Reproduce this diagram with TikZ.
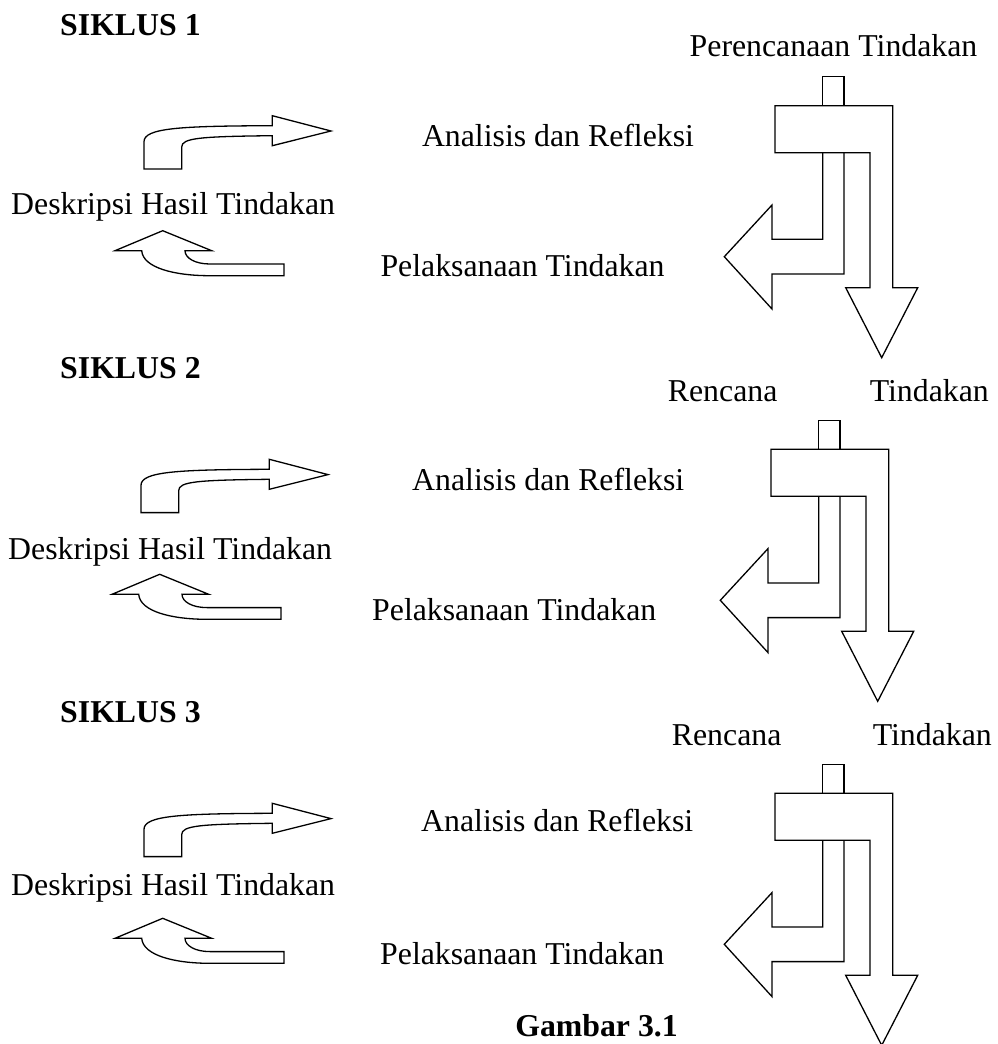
\documentclass[tikz,border=0pt]{standalone}
\usepackage{fontspec}
\setmainfont{Liberation Serif}
\newcommand{\leftarrowsdraw}{%
  % upper bent arrow pointing right
  \draw[shp] (144,169) -- (144,141.7) .. controls (144,128) and (180,126) .. (272.3,125.7)
    -- (272.3,115.7) -- (331,131) -- (272.3,145.7) -- (272.3,135.7)
    .. controls (200,136.5) and (181.7,138) .. (181.7,147) -- (181.7,169) -- cycle;
  % lower bent arrow pointing up
  \draw[shp] (284,275.7) -- (210,275.7) .. controls (175,275.7) and (143,268) .. (141.7,250.7)
    -- (115,250.7) -- (162.7,230.7) -- (211.7,250.7) -- (185,250.7)
    .. controls (185,258) and (195,264) .. (210,264) -- (284,264) -- cycle;
}
\newcommand{\rightblockdraw}{%
  % stub on top
  \draw[shp] (822.7,105.7) -- (822.7,76.7) -- (844,76.7) -- (844,105.7);
  % box with down arrow
  \draw[shp] (775,105.7) -- (892.7,105.7) -- (892.7,287.7) -- (917.7,287.7)
    -- (881.7,357.7) -- (845.7,287.7) -- (870,287.7) -- (870,152.7) -- (775,152.7) -- cycle;
  % left arrow
  \draw[shp] (822.7,152.7) -- (822.7,239.3) -- (772,239.3) -- (772,205) -- (724.3,256.7)
    -- (772,309) -- (772,274) -- (844,274) -- (844,152.7);
}
\begin{document}
\begin{tikzpicture}[x=1pt,y=-1pt,
  lbl/.style={font=\fontsize{31.8}{38}\selectfont, inner sep=0pt, anchor=base west},
  lble/.style={lbl, anchor=base east},
  ttl/.style={lbl, font=\fontsize{31.8}{38}\selectfont\bfseries},
  shp/.style={draw=black, line width=1.3pt, line join=miter}]
\useasboundingbox (0,0) rectangle (997,1044);

% ---------- cycle 1 ----------
\leftarrowsdraw
\rightblockdraw
\node[ttl] (s1) at (60,35) {SIKLUS 1};
\node[lbl] (plan1) at (689.5,56.7) {Perencanaan Tindakan};
\node[lbl] (ana1) at (421.8,146.7) {Analisis dan Refleksi};
\node[lbl] (desc1) at (11,214.5) {Deskripsi Hasil Tindakan};
\node[lbl] (pel1) at (380.3,276.7) {Pelaksanaan Tindakan};

% ---------- cycle 2 ----------
\begin{scope}[shift={(-3,343.6)}]
  \leftarrowsdraw
\end{scope}
\begin{scope}[shift={(-4,343.6)}]
  \rightblockdraw
\end{scope}
\node[ttl] (s2) at (60,378.6) {SIKLUS 2};
\node[lbl] (ren2) at (667.7,401.7) {Rencana};
\node[lble] (tin2) at (989,401.7) {Tindakan};
\node[lbl] (ana2) at (412,490.3) {Analisis dan Refleksi};
\node[lbl] (desc2) at (8,559) {Deskripsi Hasil Tindakan};
\node[lbl] (pel2) at (372,620.3) {Pelaksanaan Tindakan};

% ---------- cycle 3 ----------
\begin{scope}[shift={(0,687.6)}]
  \leftarrowsdraw
  \rightblockdraw
\end{scope}
\node[ttl] (s3) at (60,722.6) {SIKLUS 3};
\node[lbl] (ren3) at (671.7,745) {Rencana};
\node[lble] (tin3) at (992,745) {Tindakan};
\node[lbl] (ana3) at (421,831) {Analisis dan Refleksi};
\node[lbl] (desc3) at (11,895) {Deskripsi Hasil Tindakan};
\node[lbl] (pel3) at (380,964.3) {Pelaksanaan Tindakan};

\node[ttl, anchor=base east] (fig) at (678,1036) {Gambar 3.1};
\end{tikzpicture}
\end{document}
